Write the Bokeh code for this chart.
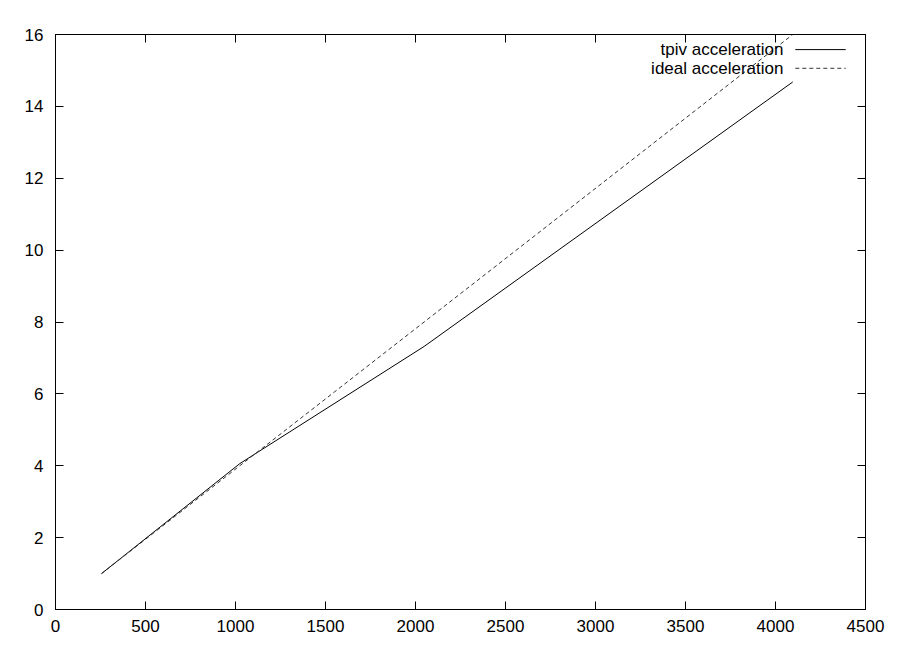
from bokeh.plotting import figure
from bokeh.models import Range1d, LinearAxis, FixedTicker, Label, CustomJSTickFormatter
from bokeh.embed import file_html
from bokeh.resources import INLINE

# data
procs = [256, 1024, 2048, 4096]
tpiv = [1.0, 4.06, 7.32, 14.68]
ideal = [1.0, 4.0, 8.0, 16.0]
x_ticks = [0, 500, 1000, 1500, 2000, 2500, 3000, 3500, 4000, 4500]
y_ticks = [0, 2, 4, 6, 8, 10, 12, 14, 16]
series_names = ["tpiv acceleration", "ideal acceleration"]

FONT = "Liberation Sans"

p = figure(width=903, height=651, output_backend="svg", toolbar_location=None,
           x_range=Range1d(0, 4500), y_range=Range1d(0, 16),
           min_border_left=55, min_border_right=38, min_border_top=34, min_border_bottom=42)
p.grid.visible = False
p.outline_line_color = "black"
p.outline_line_width = 1

def style(ax, ticks, labels=True):
    ax.ticker = FixedTicker(ticks=ticks)
    ax.major_tick_in = 8
    ax.major_tick_out = 0
    ax.minor_tick_in = 0
    ax.minor_tick_out = 0
    ax.axis_line_color = "black"
    ax.major_tick_line_color = "black"
    ax.major_label_text_font = FONT
    ax.major_label_text_font_size = "17px"
    ax.major_label_text_color = "black"
    if not labels:
        ax.formatter = CustomJSTickFormatter(code="return ''")
        ax.major_label_text_font_size = "1px"

style(p.xaxis[0], x_ticks)
p.xaxis[0].major_label_standoff = 10
style(p.yaxis[0], y_ticks)
p.yaxis[0].major_label_standoff = 12

top = LinearAxis()
style(top, x_ticks, labels=False)
p.add_layout(top, "above")
right = LinearAxis()
style(right, y_ticks, labels=False)
p.add_layout(right, "right")

p.line(procs, tpiv, line_color="black", line_width=1)
p.line(procs, ideal, line_color="#333333", line_width=1, line_dash="4 3")

# gnuplot-style key (text left of sample)
key_y = [15.58, 15.06]
dashes = ["solid", "4 3"]
for name, ky, dash in zip(series_names, key_y, dashes):
    p.add_layout(Label(x=4044, y=ky, text=name, text_align="right", text_baseline="middle",
                       text_font=FONT, text_font_size="17px", text_color="black"))
    p.line([4110, 4390], [ky, ky], line_color="black" if dash == "solid" else "#333333",
           line_width=1, line_dash=dash)

open("out.html", "w").write(file_html(p, INLINE))
